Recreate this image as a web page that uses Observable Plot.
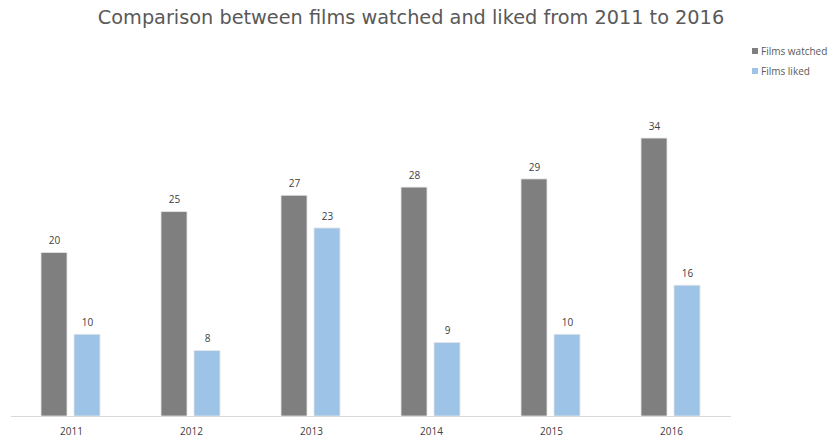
<!DOCTYPE html>
<html>
<head>
<meta charset="utf-8">
<script src="https://cdn.jsdelivr.net/npm/d3@7"></script>
<script src="https://cdn.jsdelivr.net/npm/@observablehq/plot@0.6"></script>
<style>
  html, body { margin: 0; padding: 0; background: #fff; }
  #wrap { position: relative; width: 836px; height: 446px; overflow: hidden; }
  #title { position: absolute; left: 0; top: 6px; width: 822px; text-align: center; z-index: 2;
    font-family: "DejaVu Sans", sans-serif; font-size: 19.3px; color: #595959; white-space: nowrap; }
  #legend { position: absolute; left: 752px; top: 41px; font-family: "Open Sans", sans-serif; z-index: 2;
    font-size: 10px; color: #595959; }
  #legend div { display: flex; align-items: center; height: 20px; }
  #legend span.sw { display: inline-block; width: 6px; height: 6px; margin-right: 3px; }
  #chart { position: absolute; left: 0; top: 40px; z-index: 1; }
</style>
</head>
<body>
<div id="wrap">
  <div id="title">Comparison between films watched and liked from 2011 to 2016</div>
  <div id="legend"></div>
  <div id="chart"></div>
</div>
<script>
const years = ["2011", "2012", "2013", "2014", "2015", "2016"];
const seriesNames = ["Films watched", "Films liked"];
const watched = [20, 25, 27, 28, 29, 34];
const liked = [10, 8, 23, 9, 10, 16];
const colors = ["#7f7f7f", "#9dc3e6"];

const data = [];
years.forEach((y, i) => {
  data.push({year: y, series: seriesNames[0], value: watched[i]});
  data.push({year: y, series: seriesNames[1], value: liked[i]});
});

const legend = document.getElementById("legend");
seriesNames.forEach((s, i) => {
  const d = document.createElement("div");
  d.innerHTML = `<span class="sw" style="background:${colors[i]}"></span>${s}`;
  legend.appendChild(d);
});

const chart = Plot.plot({
  width: 836,
  height: 406,
  marginLeft: 11,
  marginRight: 105,
  marginTop: 49,
  marginBottom: 30,
  style: {fontFamily: "'Open Sans', sans-serif", fontSize: "10px", color: "#404040", background: "#fff"},
  fx: {domain: years, padding: 0, label: null, axis: null},
  x: {domain: seriesNames, paddingInner: 0.2, paddingOuter: 0.87, axis: null},
  y: {domain: [0, 40], axis: null},
  color: {domain: seriesNames, range: colors},
  marks: [
    Plot.barY(data, {fx: "year", x: "series", y: "value", fill: "series", stroke: "#e6e6e6", strokeWidth: 0.8}),
    Plot.text(data, {fx: "year", x: "series", y: "value", text: d => String(d.value), dy: -12, fill: "#404040", fontSize: 10}),
    Plot.axisFx({domain: years, anchor: "bottom", tickSize: 0, tickPadding: 11, fill: "#404040", fontSize: 10, label: null}),
    Plot.ruleY([0], {stroke: "#d9d9d9", strokeWidth: 1})
  ]
});
document.getElementById("chart").appendChild(chart);
</script>
</body>
</html>
